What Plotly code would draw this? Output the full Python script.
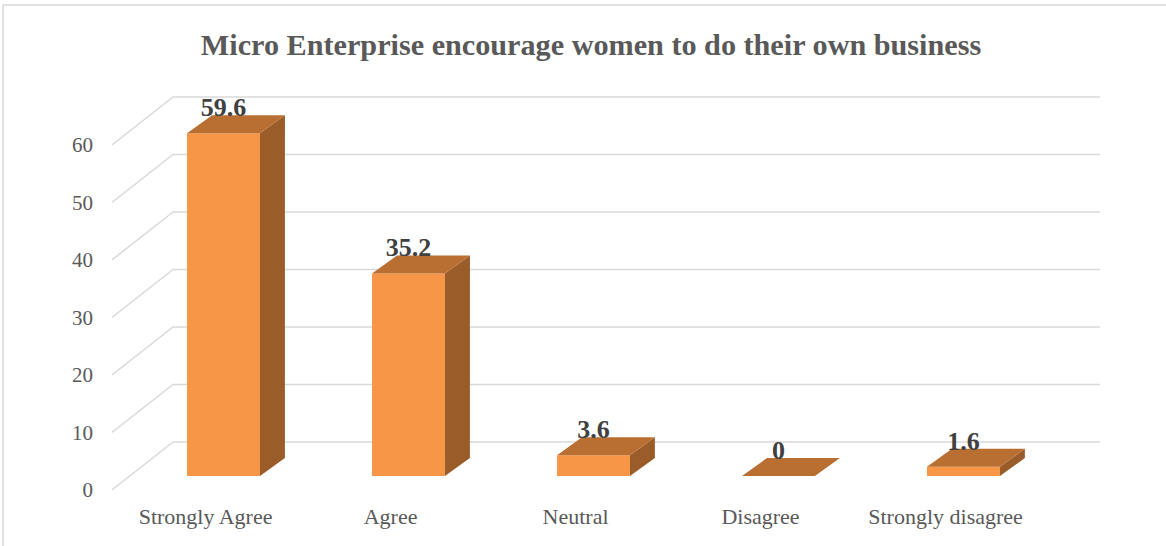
import plotly.graph_objects as go

categories = ["Strongly Agree", "Agree", "Neutral", "Disagree", "Strongly disagree"]
values = [59.6, 35.2, 3.6, 0, 1.6]
value_labels = ["59.6", "35.2", "3.6", "0", "1.6"]
y_ticks = [0, 10, 20, 30, 40, 50, 60]

FRONT = "#F79646"
TOP = "#B96E32"
SIDE = "#9A5C28"
GRID = "#D9D9D9"
TXT = "#595959"
LBL = "#404040"
FONT = "Liberation Serif"

# pseudo-3D geometry (category units / value units)
half_w = 0.197
depth_dx = 0.135
depth_dy = 3.13
wall_front_x = -0.603
wall_back_x = -0.273
wall_right_x = 4.738
front_shift = -2.43
back_shift = 5.91

fig = go.Figure()

# front faces as bars
fig.add_trace(go.Bar(
    x=list(range(len(categories))), y=values, width=2 * half_w,
    marker=dict(color=FRONT, line=dict(width=0)), showlegend=False, hoverinfo="skip",
))

# side and top faces
for i, v in enumerate(values):
    xl, xr = i - half_w, i + half_w
    if v > 0:
        fig.add_trace(go.Scatter(
            x=[xr, xr, xr + depth_dx, xr + depth_dx, xr],
            y=[0, v, v + depth_dy, depth_dy, 0],
            fill="toself", fillcolor=SIDE, mode="lines", line=dict(width=0, color=SIDE),
            showlegend=False, hoverinfo="skip"))
    fig.add_trace(go.Scatter(
        x=[xl, xr, xr + depth_dx, xl + depth_dx, xl],
        y=[v, v, v + depth_dy, v + depth_dy, v],
        fill="toself", fillcolor=TOP, mode="lines", line=dict(width=0, color=TOP),
        showlegend=False, hoverinfo="skip"))

# data labels
fig.add_trace(go.Scatter(
    x=list(range(len(categories))), y=[v + depth_dy + 1.0 for v in values],
    mode="text", text=value_labels, texttemplate="<b>%{text}</b>", textposition="middle center",
    textfont=dict(family=FONT, size=26, color=LBL, weight="bold"), showlegend=False,
    hoverinfo="skip", cliponaxis=False))

# gridlines (side wall diagonals + back wall)
shapes = []
for t in y_ticks:
    shapes.append(dict(type="line", xref="x", yref="y", layer="below",
                       x0=wall_front_x, y0=t + front_shift, x1=wall_back_x, y1=t + back_shift,
                       line=dict(color=GRID, width=1.5)))
    shapes.append(dict(type="line", xref="x", yref="y", layer="below",
                       x0=wall_back_x, y0=t + back_shift, x1=wall_right_x, y1=t + back_shift,
                       line=dict(color=GRID, width=1.5)))
# chart border
shapes.append(dict(type="rect", xref="paper", yref="paper", layer="below",
                   x0=-0.1103, x1=1.08, y0=-0.16, y1=1.2099,
                   line=dict(color=GRID, width=1.5), fillcolor="rgba(0,0,0,0)"))

fig.update_layout(
    width=1166, height=546,
    margin=dict(l=112, r=66, t=90, b=51),
    paper_bgcolor="white", plot_bgcolor="white",
    shapes=shapes,
    title=dict(text="<b>Micro Enterprise encourage women to do their own business</b>",
               x=591 / 1166, xanchor="center", y=1 - 44 / 546, yanchor="middle",
               font=dict(family=FONT, size=30.2, color=TXT)),
    xaxis=dict(range=[-0.6027, 4.738], showgrid=False, zeroline=False, showline=False,
               tickvals=[i - 0.097 for i in range(len(categories))], ticktext=categories,
               ticks="", ticklabelstandoff=6,
               tickfont=dict(family=FONT, size=22, color=TXT), fixedrange=True),
    yaxis=dict(range=[-3.304, 67.13], showgrid=False, zeroline=False, showline=False,
               tickvals=[t + front_shift for t in y_ticks], ticktext=[str(t) for t in y_ticks],
               ticks="", ticklabelstandoff=18,
               tickfont=dict(family=FONT, size=21, color=TXT), fixedrange=True),
)

fig.write_html("out.html", config={"displayModeBar": False},
               post_script="document.body.style.margin='0px';")
